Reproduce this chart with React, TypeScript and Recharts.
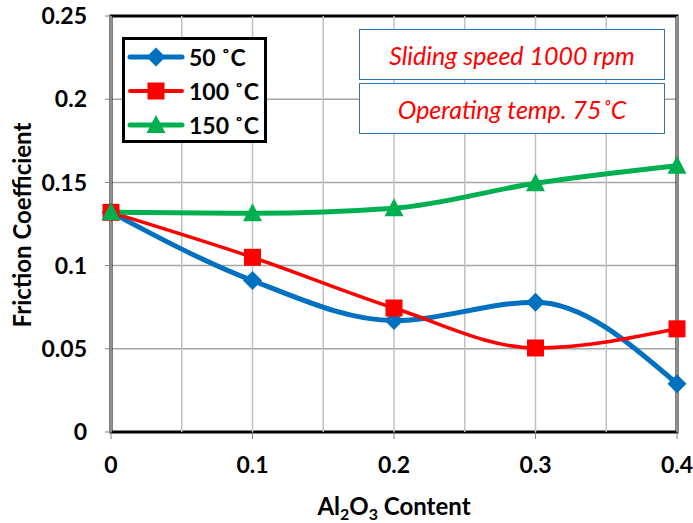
import React from "react";
import {
  LineChart,
  Line,
  XAxis,
  YAxis,
  CartesianGrid,
  ReferenceLine,
  ReferenceArea,
} from "recharts";

if (typeof document !== "undefined") document.body.style.margin = "0";

const contents = [0, 0.1, 0.2, 0.3, 0.4];
const friction50 = [0.132, 0.091, 0.067, 0.078, 0.029];
const friction100 = [0.132, 0.105, 0.0745, 0.0505, 0.062];
const friction150 = [0.132, 0.1315, 0.1345, 0.1495, 0.16];
const xTicks = [0, 0.1, 0.2, 0.3, 0.4];
const xMinorGrid = [0.05, 0.15, 0.25, 0.35];
const yTicks = [0, 0.05, 0.1, 0.15, 0.2, 0.25];
const seriesNames = ["50 \u02daC", "100 \u02daC", "150 \u02daC"];
const notes = ["Sliding speed 1000 rpm", "Operating temp. 75\u02daC"];

const BLUE = "#0070c0";
const RED = "#ff0000";
const GREEN = "#00b050";
const FONT = "Lato, 'Open Sans', sans-serif";

const data = contents.map((x, i) => ({
  x,
  t50: friction50[i],
  t100: friction100[i],
  t150: friction150[i],
}));

function Marker({ shape, cx, cy, color }: { shape: string; cx: number; cy: number; color: string }) {
  if (shape === "diamond") {
    const r = 9.5;
    return (
      <polygon
        points={`${cx},${cy - r} ${cx + r},${cy} ${cx},${cy + r} ${cx - r},${cy}`}
        fill={color}
      />
    );
  }
  if (shape === "square") {
    const h = 8.5;
    return <rect x={cx - h} y={cy - h} width={h * 2} height={h * 2} fill={color} />;
  }
  return (
    <polygon
      points={`${cx},${cy - 10} ${cx + 9.5},${cy + 8} ${cx - 9.5},${cy + 8}`}
      fill={color}
    />
  );
}

const dotFor = (shape: string, color: string) => (props: any) => {
  const { cx, cy, index } = props;
  if (cx == null || cy == null) return <g key={index} />;
  return (
    <g key={`${shape}-${index}`}>
      <Marker shape={shape} cx={cx} cy={cy} color={color} />
    </g>
  );
};

const legendRows = [
  { name: seriesNames[0], color: BLUE, shape: "diamond", width: 5 },
  { name: seriesNames[1], color: RED, shape: "square", width: 4 },
  { name: seriesNames[2], color: GREEN, shape: "triangle", width: 5 },
];

function LegendBox() {
  return (
    <div
      style={{
        position: "absolute",
        left: 122,
        top: 37,
        width: 139,
        height: 100,
        border: "3px solid #000",
        background: "#fff",
      }}
    >
      {legendRows.map((r) => (
        <div key={r.name} style={{ display: "flex", alignItems: "center", height: 34 }}>
          <svg width={64} height={30} style={{ flex: "none" }}>
            <line
              x1={5}
              x2={57}
              y1={15}
              y2={15}
              stroke={r.color}
              strokeWidth={r.width}
              strokeLinecap="round"
            />
            <Marker shape={r.shape} cx={31} cy={15} color={r.color} />
          </svg>
          <span
            style={{
              fontFamily: FONT,
              fontWeight: 700,
              fontSize: 23,
              color: "#000",
              whiteSpace: "nowrap",
            }}
          >
            {r.name}
          </span>
        </div>
      ))}
    </div>
  );
}

function YTitle(props: any) {
  const vb = props.viewBox || { x: 0, y: 0, width: 0, height: 0 };
  const cx = 31;
  const cy = vb.y + vb.height / 2 + 1;
  return (
    <text
      x={cx}
      y={cy}
      transform={`rotate(-90, ${cx}, ${cy})`}
      textAnchor="middle"
      fontFamily={FONT}
      fontWeight={700}
      fontSize={24}
      fill="#000"
    >
      Friction Coefficient
    </text>
  );
}

function XTitle(props: any) {
  const vb = props.viewBox || { x: 0, y: 0, width: 0, height: 0 };
  const cx = vb.x + vb.width / 2;
  return (
    <text
      x={cx}
      y={515}
      textAnchor="middle"
      fontFamily={FONT}
      fontWeight={700}
      fontSize={24}
      fill="#000"
    >
      Al
      <tspan fontSize={16} dy={5}>2</tspan>
      <tspan dy={-5}>O</tspan>
      <tspan fontSize={16} dy={5}>3</tspan>
      <tspan dy={-5}> Content</tspan>
    </text>
  );
}

export default function App() {
  return (
    <div style={{ position: "relative", width: 693, height: 523, background: "#fff" }}>
      <LineChart
        width={693}
        height={523}
        data={data}
        margin={{ top: 16, right: 16, left: 51, bottom: 41 }}
      >
        <CartesianGrid stroke="#a6a6a6" vertical={false} strokeWidth={1.5} />
        {xTicks.concat(xMinorGrid).map((v) => (
          <ReferenceLine key={v} x={v} stroke="#c0c0c0" strokeWidth={1.5} />
        ))}
        <XAxis
          dataKey="x"
          type="number"
          domain={[0, 0.4]}
          ticks={xTicks}
          height={50}
          tickSize={7}
          tickMargin={18}
          axisLine={false}
          tickLine={{ stroke: "#808080" }}
          tick={{ fontFamily: FONT, fontWeight: 700, fontSize: 23, fill: "#000" }}
          label={<XTitle />}
        />
        <YAxis
          type="number"
          domain={[0, 0.25]}
          ticks={yTicks}
          width={60}
          tickSize={6}
          tickMargin={18}
          axisLine={false}
          tickLine={{ stroke: "#808080" }}
          tick={{ fontFamily: FONT, fontWeight: 700, fontSize: 23, fill: "#000" }}
          label={<YTitle />}
        />
        <ReferenceArea
          x1={0}
          x2={0.4}
          y1={0}
          y2={0.25}
          fill="none"
          stroke="#000"
          strokeWidth={3}
          ifOverflow="visible"
        />
        <Line
          type="monotone"
          dataKey="t50"
          name={seriesNames[0]}
          stroke={BLUE}
          strokeWidth={5}
          dot={dotFor("diamond", BLUE)}
          activeDot={false}
          isAnimationActive={false}
        />
        <Line
          type="monotone"
          dataKey="t100"
          name={seriesNames[1]}
          stroke={RED}
          strokeWidth={3.5}
          dot={dotFor("square", RED)}
          activeDot={false}
          isAnimationActive={false}
        />
        <Line
          type="monotone"
          dataKey="t150"
          name={seriesNames[2]}
          stroke={GREEN}
          strokeWidth={5}
          dot={dotFor("triangle", GREEN)}
          activeDot={false}
          isAnimationActive={false}
        />
      </LineChart>
      <LegendBox />
      {notes.map((n, i) => (
        <div
          key={n}
          style={{
            position: "absolute",
            left: 359,
            top: 29 + i * 54,
            width: 304,
            height: 49,
            border: "1.5px solid #2e75b6",
            background: "#fff",
            display: "flex",
            alignItems: "center",
            justifyContent: "center",
            fontFamily: FONT,
            fontStyle: "italic",
            fontSize: 25,
            color: RED,
            whiteSpace: "nowrap",
          }}
        >
          {n}
        </div>
      ))}
    </div>
  );
}
